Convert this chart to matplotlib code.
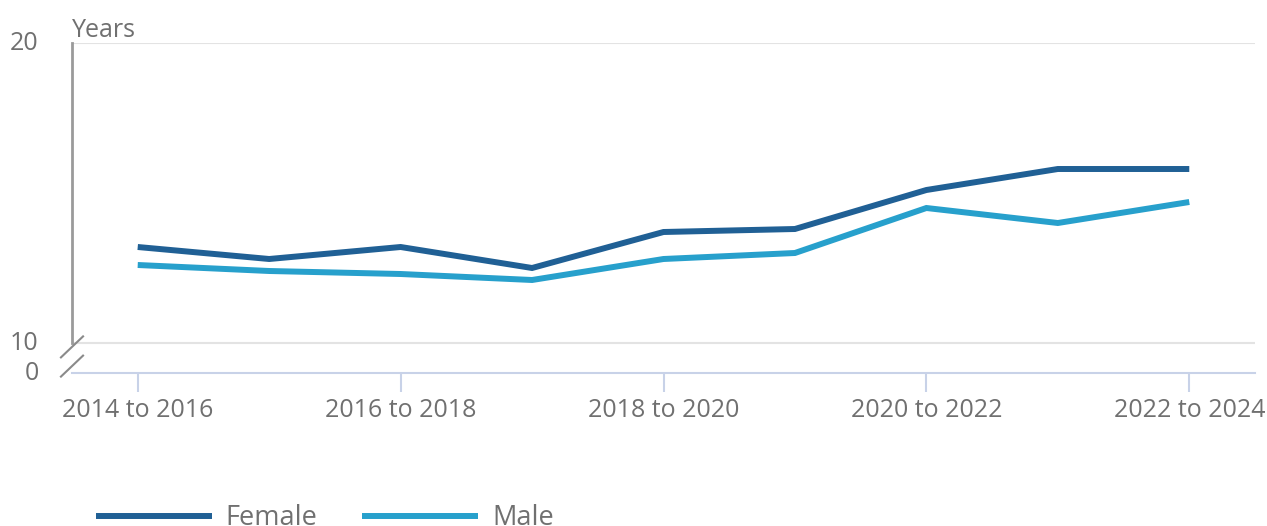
import matplotlib
matplotlib.use("Agg")
import matplotlib.pyplot as plt

plt.rcParams['font.family'] = ['Open Sans', 'DejaVu Sans']

periods = ["2014 to 2016", "2015 to 2017", "2016 to 2018", "2017 to 2019", "2018 to 2020",
           "2019 to 2021", "2020 to 2022", "2021 to 2023", "2022 to 2024"]
female = [13.2, 12.8, 13.2, 12.5, 13.7, 13.8, 15.1, 15.8, 15.8]
male = [12.6, 12.4, 12.3, 12.1, 12.8, 13.0, 14.5, 14.0, 14.7]
ytick_values = [0, 10, 20]
ytick_labels = ["0", "10", "20"]

def to_axis(v):
    # broken axis: values below 10 compress so that 0 sits one unit below 10
    return v if v >= 10 else 9 + v / 10.0

TXT = "#707070"
FS = 18
fig = plt.figure(figsize=(12.67, 5.26), dpi=100)
ax = fig.add_axes([72/1267, 1-373/526, (1255-72)/1267, 330/526])

x = list(range(len(periods)))
ax.plot(x, female, color="#206095", lw=4.3, solid_capstyle="butt", solid_joinstyle="miter", label="Female", zorder=3)
ax.plot(x, male, color="#27a0cc", lw=4.3, solid_capstyle="butt", solid_joinstyle="miter", label="Male", zorder=3)

ax.set_ylim(9, 20)
ax.set_xlim(-0.5, 8.5)
ax.set_yticks([to_axis(v) for v in ytick_values])
ax.set_yticklabels(ytick_labels)
ax.set_xticks(x[::2])
ax.set_xticklabels(periods[::2])

for v in [10, 20]:
    ax.axhline(v, color="#e3e3e3", lw=1.5, zorder=1)

for s in ["top", "right", "left"]:
    ax.spines[s].set_visible(False)
ax.spines["bottom"].set_color("#c8d2e8")
ax.spines["bottom"].set_linewidth(1.5)

# left axis line from 10 to 20
ax.plot([-0.5, -0.5], [10, 20], color="#9a9a9a", lw=2, clip_on=False, zorder=4)
# break marks
dx, dy = 0.084, 0.35
for yc in [9.87, 9.23]:
    ax.plot([-0.5 - dx, -0.5 + dx], [yc - dy, yc + dy], color="#8a8a8a", lw=1.5, clip_on=False, zorder=4)

ax.tick_params(axis="y", length=0, pad=24, labelsize=FS, labelcolor=TXT)
ax.tick_params(axis="x", length=14, width=1.5, color="#c8d2e8", pad=4, labelsize=FS, labelcolor=TXT)
for lab in ax.get_yticklabels():
    lab.set_verticalalignment("center")

ax.text(0, 1.0, "Years", transform=ax.transAxes, fontsize=FS, color=TXT, ha="left", va="bottom")

handles, labels = ax.get_legend_handles_labels()
fig.legend(handles, labels, loc="lower left", bbox_to_anchor=(85/1267, -17/526), ncol=2, frameon=False,
           fontsize=19.5, labelcolor=TXT, handlelength=4.28, handletextpad=0.52, columnspacing=1.65,
           borderaxespad=0)

fig.savefig("out.png", dpi=100)
